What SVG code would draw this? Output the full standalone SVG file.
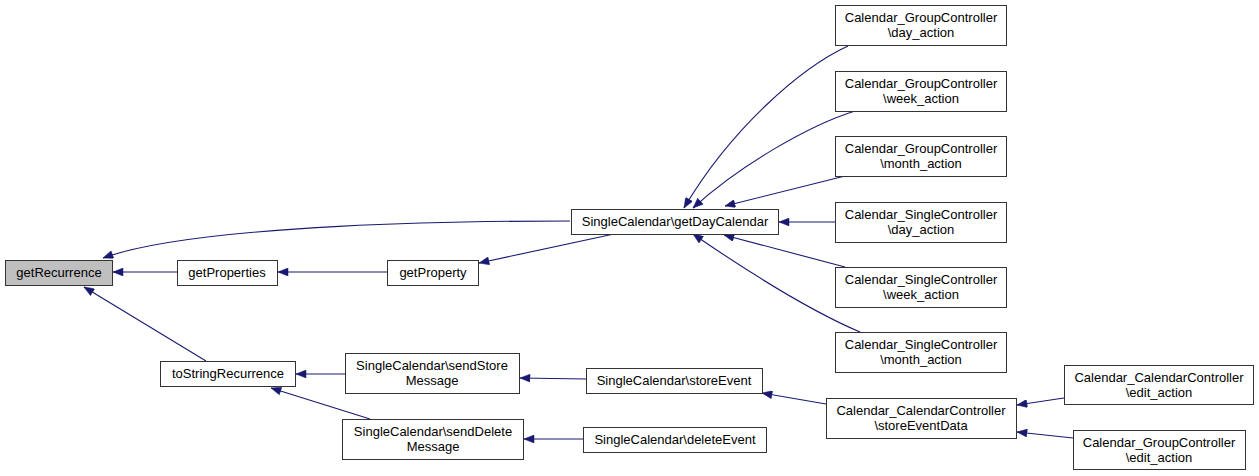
<svg xmlns="http://www.w3.org/2000/svg" width="1259" height="476" viewBox="0 0 1259 476">
<style>
.n rect{fill:#ffffff;stroke:#333333;stroke-width:1}
.n.hl rect{fill:#bfbfbf}
.n text{font-family:"Liberation Sans",Arial,Helvetica,sans-serif;font-size:13px;fill:#000000;text-anchor:middle}
.e path{fill:none;stroke:#191970;stroke-width:1.1;marker-end:url(#ah)}
</style>
<defs>
<marker id="ah" viewBox="0 0 10 8" refX="10" refY="4" markerWidth="11" markerHeight="8" markerUnits="userSpaceOnUse" orient="auto">
<path d="M0,0 L10,4 L0,8 z" fill="#191970" stroke="#191970" stroke-width="0.5"/>
</marker>
</defs>
<rect width="1259" height="476" fill="#ffffff"/>
<g id="edges" class="e">
<path d="M570,221 C480,221 200,223 103,258"/>
<path d="M177,272 L113,272"/>
<path d="M206,361 L84,287"/>
<path d="M387,272 L278,272"/>
<path d="M614,234 L479,263"/>
<path d="M848,46 C800,68 730,130 684,208"/>
<path d="M855,111 C810,125 740,165 693,208"/>
<path d="M845,176 L725,206"/>
<path d="M835,222 L779,222"/>
<path d="M845,267 L724,235"/>
<path d="M860,332 C820,315 760,280 693,234"/>
<path d="M345,374 L296,374"/>
<path d="M370,419 L271,388"/>
<path d="M586,379 L520,378"/>
<path d="M583,439 L524,439"/>
<path d="M826,404 L762,393"/>
<path d="M1064,398 L1017,405"/>
<path d="M1073,438 L1017,432"/>
</g>
<g id="getRecurrence" class="n hl"><rect x="5.5" y="260.5" width="107" height="25"/><text x="59" y="277">getRecurrence</text></g>
<g id="getProperties" class="n"><rect x="177.5" y="260.5" width="100" height="25"/><text x="227" y="277">getProperties</text></g>
<g id="toStringRecurrence" class="n"><rect x="160.5" y="361.5" width="135" height="25"/><text x="228" y="378">toStringRecurrence</text></g>
<g id="getProperty" class="n"><rect x="387.5" y="260.5" width="91" height="25"/><text x="433" y="277">getProperty</text></g>
<g id="getDayCalendar" class="n"><rect x="571.5" y="209.5" width="207" height="25"/><text x="675" y="226">SingleCalendar\getDayCalendar</text></g>
<g id="gc_day" class="n"><rect x="835.5" y="5.5" width="171" height="40"/><text x="921" y="22">Calendar_GroupController</text><text x="921" y="37">\day_action</text></g>
<g id="gc_week" class="n"><rect x="835.5" y="71.5" width="171" height="40"/><text x="921" y="88">Calendar_GroupController</text><text x="921" y="103">\week_action</text></g>
<g id="gc_month" class="n"><rect x="835.5" y="136.5" width="171" height="40"/><text x="921" y="153">Calendar_GroupController</text><text x="921" y="168">\month_action</text></g>
<g id="sc_day" class="n"><rect x="835.5" y="202.5" width="171" height="40"/><text x="921" y="219">Calendar_SingleController</text><text x="921" y="234">\day_action</text></g>
<g id="sc_week" class="n"><rect x="835.5" y="267.5" width="171" height="40"/><text x="921" y="284">Calendar_SingleController</text><text x="921" y="299">\week_action</text></g>
<g id="sc_month" class="n"><rect x="835.5" y="332.5" width="171" height="40"/><text x="921" y="349">Calendar_SingleController</text><text x="921" y="364">\month_action</text></g>
<g id="sendStoreMessage" class="n"><rect x="345.5" y="353.5" width="174" height="40"/><text x="432" y="370">SingleCalendar\sendStore</text><text x="432" y="385">Message</text></g>
<g id="sendDeleteMessage" class="n"><rect x="342.5" y="419.5" width="181" height="40"/><text x="433" y="436">SingleCalendar\sendDelete</text><text x="433" y="451">Message</text></g>
<g id="storeEvent" class="n"><rect x="586.5" y="368.5" width="176" height="25"/><text x="674" y="385">SingleCalendar\storeEvent</text></g>
<g id="deleteEvent" class="n"><rect x="583.5" y="427.5" width="183" height="25"/><text x="675" y="444">SingleCalendar\deleteEvent</text></g>
<g id="storeEventData" class="n"><rect x="826.5" y="398.5" width="190" height="40"/><text x="921" y="415">Calendar_CalendarController</text><text x="921" y="430">\storeEventData</text></g>
<g id="cc_edit" class="n"><rect x="1064.5" y="365.5" width="189" height="39"/><text x="1159" y="382">Calendar_CalendarController</text><text x="1159" y="397">\edit_action</text></g>
<g id="gc_edit" class="n"><rect x="1073.5" y="430.5" width="172" height="39"/><text x="1159" y="447">Calendar_GroupController</text><text x="1159" y="462">\edit_action</text></g>
</svg>
